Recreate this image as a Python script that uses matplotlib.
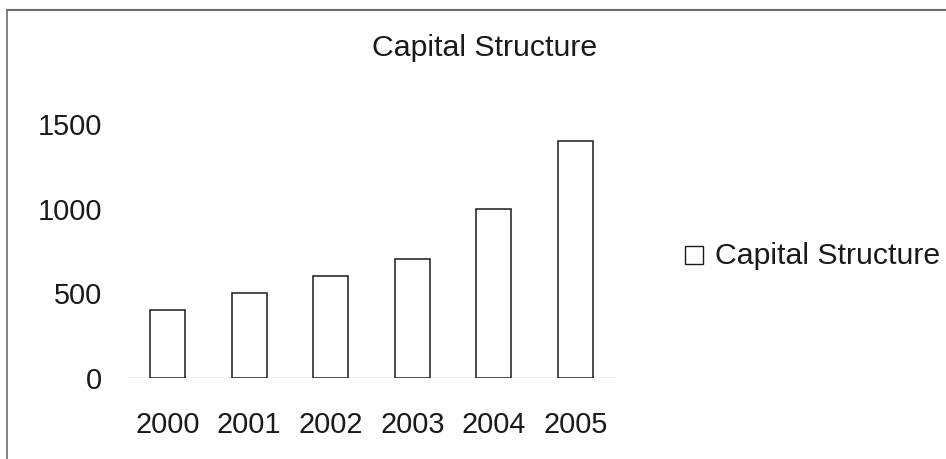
import matplotlib
matplotlib.use("Agg")
import matplotlib.pyplot as plt
from matplotlib.lines import Line2D
from matplotlib.patches import Rectangle

plt.rcParams['font.family'] = ['Liberation Sans', 'DejaVu Sans']

years = ["2000", "2001", "2002", "2003", "2004", "2005"]
capital = [400, 500, 600, 700, 1000, 1400]
yticks = [0, 500, 1000, 1500]
title = "Capital Structure"
series_name = "Capital Structure"

W, H = 946, 459
fig = plt.figure(figsize=(W / 100, H / 100), dpi=100)
fig.patch.set_facecolor("white")

ax = fig.add_axes([127 / W, (H - 378) / H, 489 / W, 254 / H])
x = range(len(years))
ax.bar(x, capital, width=0.43, color="white", edgecolor="#1a1a1a",
       linewidth=1.1, zorder=3, label=series_name)
ax.set_xlim(-0.5, len(years) - 0.5)
ax.set_ylim(0, 1500)
ax.set_xticks(list(x))
ax.set_xticklabels(years)
ax.set_yticks(yticks)
ax.set_yticklabels([str(v) for v in yticks])
ax.tick_params(axis="both", length=0, labelsize=20.8, colors="#1a1a1a")
ax.tick_params(axis="y", pad=18)
ax.tick_params(axis="x", pad=24)
for s in ax.spines.values():
    s.set_visible(False)
ax.axhline(0, color="#c4c4c4", linewidth=1.0, zorder=2)
ax.set_facecolor("none")

fig.text(485 / W, 1 - 48 / H, title, ha="center", va="center",
         fontsize=21.8, color="#1a1a1a")

# legend entry: outlined square with series name
fig.add_artist(Rectangle((685 / W, 1 - 264 / H), 18 / W, 18 / H,
                         transform=fig.transFigure, facecolor="white",
                         edgecolor="#1a1a1a", linewidth=1.0))
fig.text(715 / W, 1 - 256 / H, series_name, ha="left", va="center",
         fontsize=21.8, color="#1a1a1a")

# chart border (top and left edges)
fig.add_artist(Line2D([7 / W, 1.0], [1 - 10 / H, 1 - 10 / H],
                      transform=fig.transFigure, color="#6e6e6e", linewidth=1.5))
fig.add_artist(Line2D([7 / W, 7 / W], [0, 1 - 10 / H],
                      transform=fig.transFigure, color="#6e6e6e", linewidth=1.2))

fig.savefig("out.png", dpi=100)
